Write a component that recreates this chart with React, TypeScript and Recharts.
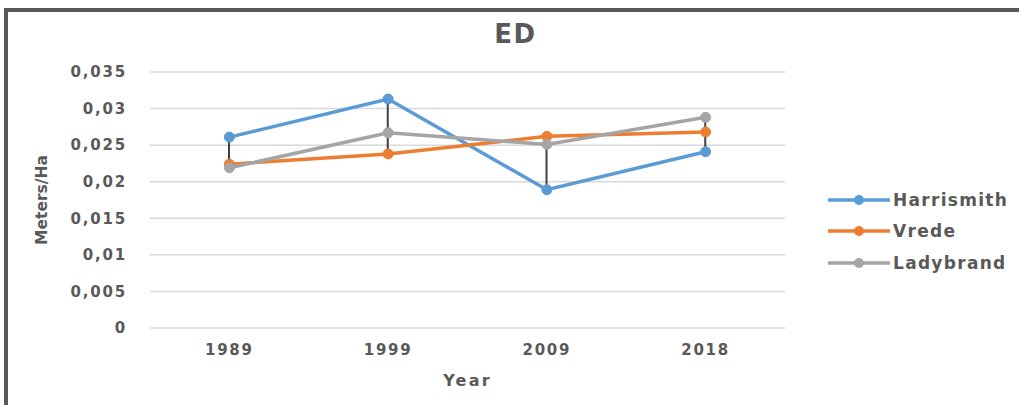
import React from "react";
import { Bar, CartesianGrid, ComposedChart, Label, Legend, Line, XAxis, YAxis } from "recharts";

const YEARS = ["1989", "1999", "2009", "2018"];
const HARRISMITH = [0.0261, 0.0313, 0.0189, 0.0241];
const VREDE = [0.0224, 0.0238, 0.0262, 0.0268];
const LADYBRAND = [0.0219, 0.0267, 0.0251, 0.0288];
const Y_TICKS = [0, 0.005, 0.01, 0.015, 0.02, 0.025, 0.03, 0.035];

const SERIES = [
  { key: "Harrismith", values: HARRISMITH, color: "#5B9BD5" },
  { key: "Vrede", values: VREDE, color: "#ED7D31" },
  { key: "Ladybrand", values: LADYBRAND, color: "#A5A5A5" },
];

const TEXT = "#595959";
const FONT = "'DejaVu Sans', Verdana, sans-serif";

// one row per year, plus the high-low span across the three towns
const data = YEARS.map((year, i) => {
  const row: Record<string, unknown> = { year };
  const vals = SERIES.map((s) => s.values[i]);
  SERIES.forEach((s) => (row[s.key] = s.values[i]));
  row.range = [Math.min(...vals), Math.max(...vals)];
  return row;
});

const tickStyle = { fontSize: 15, fontWeight: 700, fill: TEXT, fontFamily: FONT, letterSpacing: 1.8 };

function renderLegend() {
  return (
    <div style={{ paddingLeft: 43, fontFamily: FONT }}>
      {SERIES.map((s) => (
        <div key={s.key} style={{ display: "flex", alignItems: "center", height: 31.5 }}>
          <svg width={62} height={12} style={{ marginRight: 3 }}>
            <line x1={0} y1={6} x2={62} y2={6} stroke={s.color} strokeWidth={3.5} />
            <circle cx={31} cy={6} r={5} fill={s.color} />
          </svg>
          <span style={{ fontSize: 17, fontWeight: 700, color: TEXT, letterSpacing: 1.3 }}>{s.key}</span>
        </div>
      ))}
    </div>
  );
}

export default function App() {
  return (
    <div style={{ position: "absolute", left: 0, top: 0, width: 1019, height: 405, background: "#fff", overflow: "hidden" }}>
      <div style={{ position: "absolute", left: 4, top: 8, width: 1015, height: 4, background: "#595959" }} />
      <div style={{ position: "absolute", left: 4, top: 8, width: 4, height: 397, background: "#595959" }} />
      <div
        style={{
          position: "absolute", left: 0, width: 1019, top: 19, textAlign: "center",
          fontFamily: FONT, fontWeight: 700, fontSize: 26, color: TEXT, letterSpacing: 1.5, paddingLeft: 6,
        }}
      >
        ED
      </div>
      <ComposedChart width={1019} height={405} data={data} margin={{ top: 72, right: 0, bottom: 0, left: 0 }}>
        <CartesianGrid vertical={false} stroke="#D9D9D9" strokeWidth={1.5} />
        <XAxis
          dataKey="year"
          height={77}
          axisLine={false}
          tickLine={false}
          tickSize={0}
          tickMargin={16}
          tick={tickStyle}
        >
          <Label
            value="Year"
            position="insideBottom"
            offset={19}
            style={{ fontSize: 16, fontWeight: 700, fill: TEXT, fontFamily: FONT, letterSpacing: 2.2 }}
          />
        </XAxis>
        <YAxis
          width={150}
          domain={[0, 0.035]}
          ticks={Y_TICKS}
          axisLine={false}
          tickLine={false}
          tickSize={0}
          tickMargin={23}
          tick={tickStyle}
          tickFormatter={(v) => String(v).replace(".", ",")}
        >
          <Label
            value="Meters/Ha"
            angle={-90}
            position="insideLeft"
            offset={41}
            style={{ textAnchor: "middle", fontSize: 15.5, fontWeight: 700, fill: TEXT, fontFamily: FONT }}
          />
        </YAxis>
        <Legend
          layout="vertical"
          align="right"
          verticalAlign="top"
          width={234}
          content={renderLegend}
          wrapperStyle={{ top: 184, right: 0 }}
        />
        <Bar dataKey="range" barSize={2} fill="#404040" isAnimationActive={false} legendType="none" />
        {SERIES.map((s) => (
          <Line
            key={s.key}
            dataKey={s.key}
            stroke={s.color}
            strokeWidth={3.5}
            dot={{ r: 5, fill: s.color, stroke: s.color, strokeWidth: 1 }}
            isAnimationActive={false}
          />
        ))}
      </ComposedChart>
    </div>
  );
}
